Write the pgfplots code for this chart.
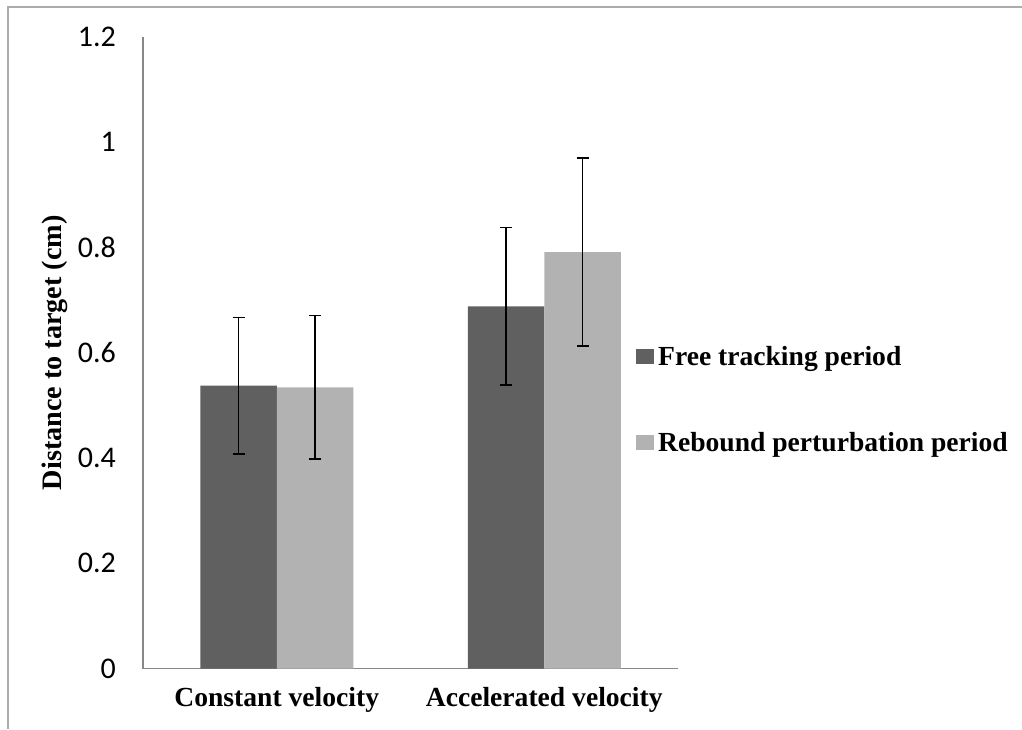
\documentclass[border=0pt]{standalone}
\usepackage{fontspec}
\setmainfont{Liberation Serif}
\newfontfamily\calibri{Carlito}
\usepackage{pgfplots}
\pgfplotsset{compat=1.18}
\definecolor{darkbar}{HTML}{606060}
\definecolor{lightbar}{HTML}{B2B2B2}
\definecolor{axgray}{HTML}{888888}
\newcommand{\labfont}{\bfseries\fontsize{13.8}{15}\selectfont}
\begin{document}
\begin{tikzpicture}
\path[use as bounding box] (0,0) rectangle (511pt,364.5pt);
\draw[axgray!70,line width=0.6pt] (4pt,0) -- (4pt,361pt) -- (511pt,361pt);
\begin{axis}[
  at={(71.5pt,30.25pt)}, anchor=south west,
  scale only axis, width=267.5pt, height=315.75pt,
  ybar=0pt, bar width=38.25pt,
  xmin=-0.5, xmax=1.5, ymin=0, ymax=1.2,
  xtick=data, xticklabels={Constant velocity, Accelerated velocity},
  ytick={0,0.2,0.4,0.6,0.8,1,1.2},
  major tick length=0pt,
  axis x line*=bottom, axis y line*=left,
  axis line style={axgray, line width=0.6pt, -},
  /pgf/number format/assume math mode=true,
  yticklabel style={font=\calibri\fontsize{15}{16}\selectfont, xshift=-10pt},
  xticklabel style={font=\labfont, yshift=-6pt},
  ylabel={Distance to target (cm)},
  ylabel style={font=\bfseries\fontsize{14.1}{15}\selectfont, at={(axis description cs:-0.165,0.5)}, anchor=center},
  legend style={draw=none, fill=none, font=\labfont, at={(axis description cs:0.921,0.425)},
    anchor=west, row sep=28pt, inner sep=0pt, legend cell align=left},
  legend image code/.code={\fill[#1] (0pt,-3.5pt) rectangle (9pt,4pt);},
  error bars/error bar style={black, line width=0.75pt},
  error bars/error mark options={black, line width=0.75pt, rotate=90, mark size=3pt},
]
\addplot[fill=darkbar, draw=none, error bars/.cd, y dir=both, y explicit]
  coordinates {(0,0.5374) +- (0,0.1296) (1,0.6883) +- (0,0.1499)};
\addplot[fill=lightbar, draw=none, error bars/.cd, y dir=both, y explicit]
  coordinates {(0,0.5343) +- (0,0.1365) (1,0.7914) +- (0,0.1790)};
\legend{Free tracking period, Rebound perturbation period}
\end{axis}
\end{tikzpicture}
\end{document}
